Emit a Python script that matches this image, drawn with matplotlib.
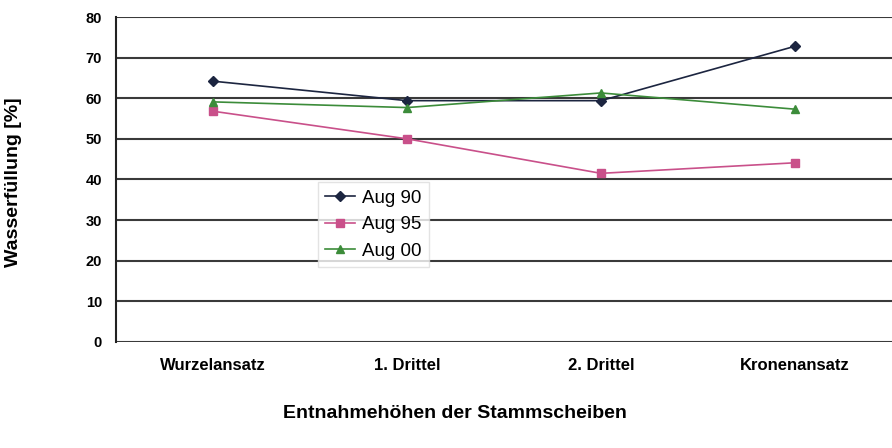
import numpy as np
import matplotlib.pyplot as plt

plt.rcParams['font.family'] = ['Liberation Sans', 'DejaVu Sans']

categories = ["Wurzelansatz", "1. Drittel", "2. Drittel", "Kronenansatz"]
aug90 = [64.2, 59.4, 59.4, 72.8]
aug95 = [56.8, 50.0, 41.5, 44.1]
aug00 = [59.1, 57.7, 61.3, 57.3]
yticks = [0, 10, 20, 30, 40, 50, 60, 70, 80]

fig = plt.figure(figsize=(8.92, 4.48), dpi=100)
ax = fig.add_axes([0.130, 0.237, 0.870, 0.725])

x = np.arange(len(categories))
ax.plot(x, aug90, color="#1c2540", marker="D", markersize=5, lw=1.2, label="Aug 90")
ax.plot(x, aug95, color="#c9508a", marker="s", markersize=6, lw=1.2, label="Aug 95")
ax.plot(x, aug00, color="#3c8c3a", marker="^", markersize=6, lw=1.2, label="Aug 00")

ax.set_xlim(-0.5, 3.5)
ax.set_ylim(0, 80)
ax.set_yticks(yticks)
ax.set_xticks(x)
ax.set_xticklabels(categories, fontweight="bold", fontsize=12)
for lab in ax.get_yticklabels():
    lab.set_fontweight("bold")
    lab.set_fontsize(10.5)
ax.tick_params(axis="x", length=0, pad=12)
ax.tick_params(axis="y", length=0, pad=10)
ax.yaxis.grid(True, color="#3a3a3a", lw=1.5)
ax.set_axisbelow(True)
for s in ["top", "right", "bottom"]:
    ax.spines[s].set_visible(False)
ax.spines["left"].set_color("#222222")
ax.spines["left"].set_linewidth(1.5)

ax.set_ylabel("Wasserfüllung [%]", fontweight="bold", fontsize=14)
ax.yaxis.set_label_coords(-0.121, 0.49)
fig.text(0.51, 0.068, "Entnahmehöhen der Stammscheiben", ha="center", fontsize=14, fontweight="bold")

leg = ax.legend(loc="upper left", bbox_to_anchor=(0.248, 0.52), fontsize=13.5,
                frameon=True, fancybox=False, handlelength=1.6,
                borderpad=0.4, labelspacing=0.5, handletextpad=0.35)
leg.get_frame().set_edgecolor("#dddddd")
leg.get_frame().set_linewidth(1)

fig.savefig("out.png", dpi=100)
